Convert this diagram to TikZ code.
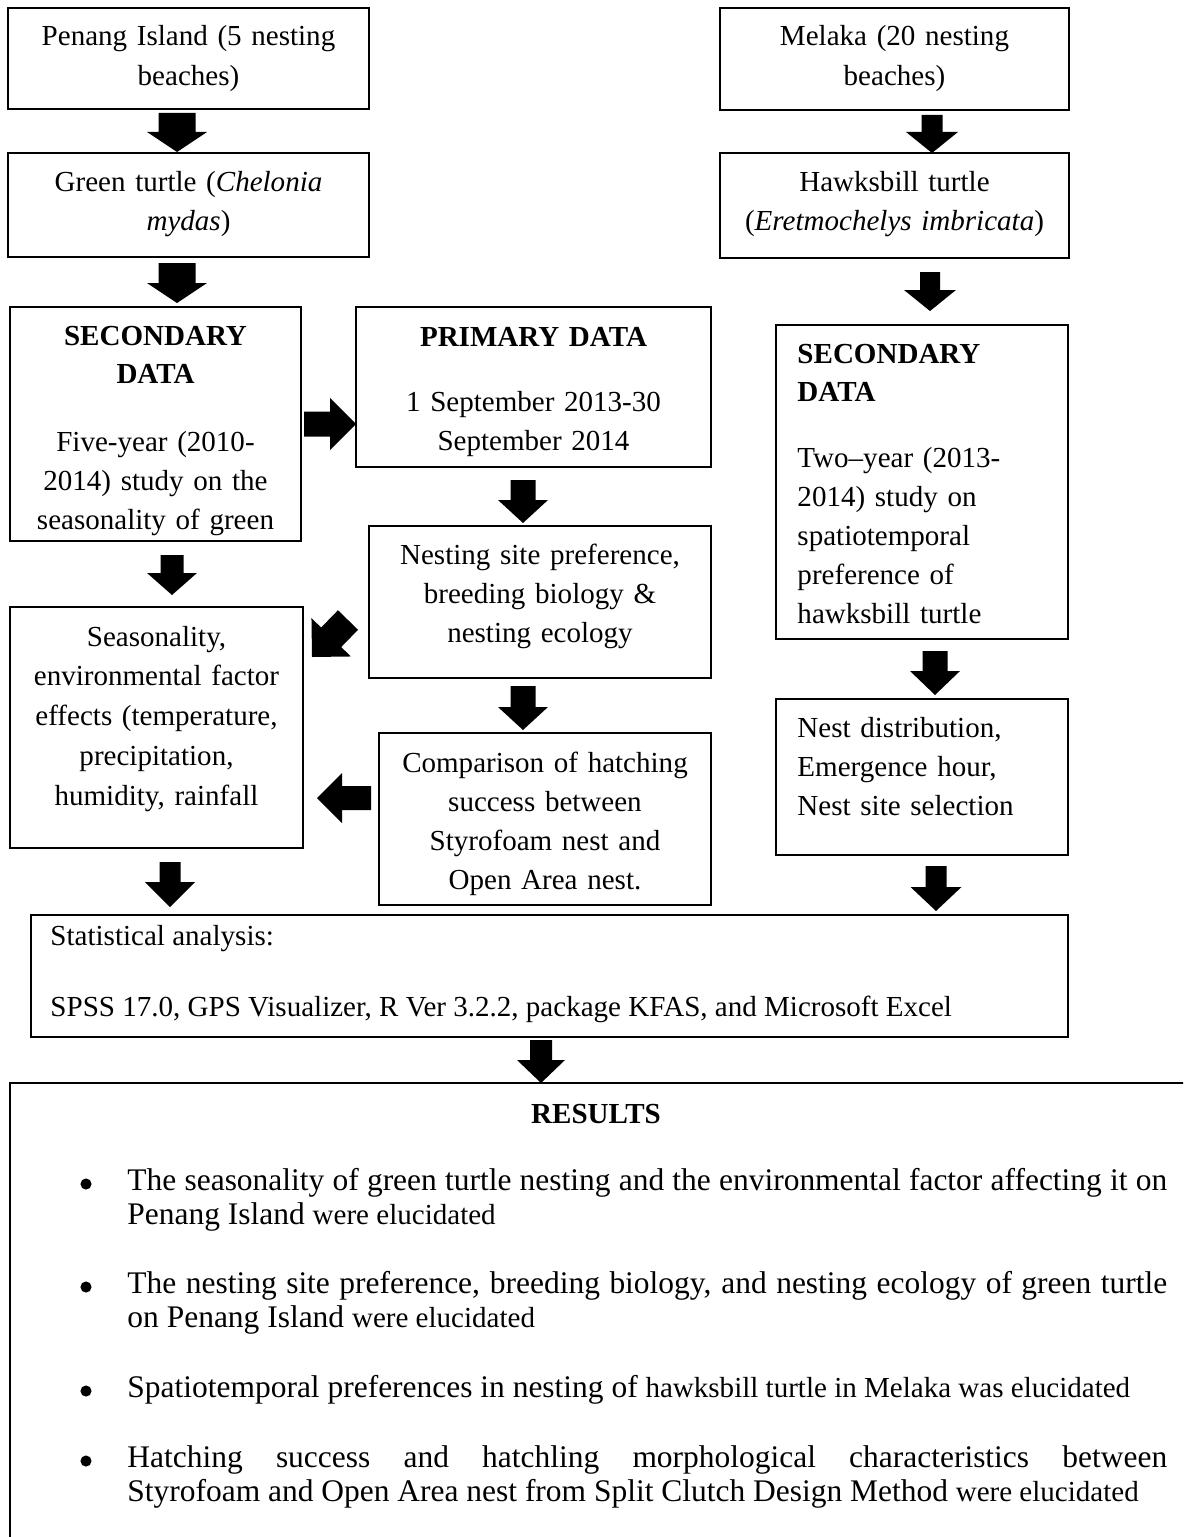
\documentclass[tikz,border=0pt]{standalone}
\usepackage{fontspec}
\setmainfont{Liberation Serif}
\usetikzlibrary{calc,fit}
\newcommand\pxu{0.41322pt}
\newcommand\itemprep{\tolerance=10000\relax\hyphenpenalty=10000\relax\exhyphenpenalty=10000\relax\hbadness=10000\relax}
\tikzset{
  box/.style={draw, line width=0.9pt, inner sep=0pt},
  lbl/.style={inner sep=0pt, anchor=base, align=center, text width=220pt,
              font=\fontsize{12}{16.2}\selectfont},
  lblL/.style={inner sep=0pt, anchor=base west, align=left, text width=140pt,
              font=\fontsize{12}{16.2}\selectfont},
  hdr/.style={font=\fontsize{12}{16}\selectfont\bfseries},
  item/.style={inner sep=0pt, anchor=base west, align=justify, text width=429.6pt,
              font=\fontsize{13}{14.2}\selectfont\itemprep},
  dot/.style={circle, fill=black, inner sep=0pt, minimum size=4.6pt},
}
% block arrow: from, tip, shaft width, head width, head length (all in px)
\newcommand\blockarrow[5]{%
  \fill let \p1=(#1), \p2=(#2), \n1={atan2(\y2-\y1,\x2-\x1)}, \n2={veclen(\x2-\x1,\y2-\y1)} in
    [shift={(\p1)}, rotate=\n1]
    (0pt,{#3/2*\pxu}) -- ({\n2*1pt-#5*\pxu},{#3/2*\pxu}) -- ({\n2*1pt-#5*\pxu},{#4/2*\pxu})
    -- ({\n2*1pt},0pt) -- ({\n2*1pt-#5*\pxu},{-#4/2*\pxu}) -- ({\n2*1pt-#5*\pxu},{-#3/2*\pxu})
    -- (0pt,{-#3/2*\pxu}) -- cycle;}
\newcommand\smalltxt[1]{{\fontsize{12}{14.2}\selectfont #1}}
\begin{document}
\begin{tikzpicture}[x=\pxu, y=-\pxu]
\useasboundingbox (0,0) rectangle (1183,1537);
\fill[white] (0,0) rectangle (1183,1537);
\clip (0,0) rectangle (1183,1537);

% ---------- boxes ----------
\node[box, fit={(8,8) (369,109)}] (A) {};
\node[box, fit={(8,153) (369,257)}] (B) {};
\node[box, fit={(10,307) (301,541)}] (C) {};
\node[box, fit={(356,307) (711,467)}] (D) {};
\node[box, fit={(369,526) (711,678)}] (E) {};
\node[box, fit={(10,607) (303,848)}] (F) {};
\node[box, fit={(379,733) (711,905)}] (G) {};
\node[box, fit={(720,8) (1069,110)}] (H) {};
\node[box, fit={(720,153) (1069,258)}] (I) {};
\node[box, fit={(776,325) (1068,639)}] (J) {};
\node[box, fit={(776,699) (1068,855)}] (K) {};
\node[box, fit={(31,915) (1068,1037)}] (L) {};
\node[box, fit={(10,1083) (1210,1570)}] (R) {};

% ---------- texts ----------
\node[lbl] (At) at (188.5,46) {Penang Island (5 nesting\\beaches)};
\node[lbl] (Bt) at (188.5,191) {Green turtle (\textit{Chelonia}\\\textit{mydas})};
\node[lbl,hdr] (Ch) at (155.5,345) {SECONDARY\\DATA};
\node[lbl] (Cb) at (155.5,451) {Five-year (2010-\\2014) study on the\\seasonality of green};
\node[lbl,hdr] (Dh) at (533.5,346) {PRIMARY DATA};
\node[lbl] (Db) at (533.5,411) {1 September 2013-30\\September 2014};
\node[lbl] (Et) at (540,564) {Nesting site preference,\\breeding biology \&\\nesting ecology};
\node[lbl, font=\fontsize{12}{16.5}\selectfont] (Ft) at (156.5,646) {Seasonality,\\environmental factor\\effects (temperature,\\precipitation,\\humidity, rainfall};
\node[lbl] (Gt) at (545,772) {Comparison of hatching\\success between\\Styrofoam nest and\\Open Area nest.};
\node[lbl] (Ht) at (894.5,46) {Melaka (20 nesting\\beaches)};
\node[lbl] (It) at (894.5,191) {Hawksbill turtle\\(\textit{Eretmochelys imbricata})};
\node[lblL,hdr] (Jh) at (797,363) {SECONDARY\\DATA};
\node[lblL] (Jb) at (797,467) {Two–year (2013-\\2014) study on\\spatiotemporal\\preference of\\hawksbill turtle};
\node[lblL] (Kt) at (797,737) {Nest distribution,\\Emergence hour,\\Nest site selection};
\node[inner sep=0pt, anchor=base west, font=\fontsize{12}{16}\selectfont] (L1) at (50,945) {Statistical analysis:};
\node[inner sep=0pt, anchor=base west, font=\fontsize{12}{16}\selectfont] (L2) at (50,1016) {SPSS 17.0, GPS Visualizer, R Ver 3.2.2, package KFAS, and Microsoft Excel};
\node[inner sep=0pt, anchor=base, font=\fontsize{12}{16}\selectfont\bfseries] (Rh) at (596,1123) {RESULTS};

\node[item] (R1) at (127,1190) {The seasonality of green turtle nesting and the environmental factor affecting it on\linebreak Penang Island \smalltxt{were elucidated}};
\node[item] (R2) at (127,1293) {The nesting site preference, breeding biology, and nesting ecology of green turtle\linebreak on Penang Island \smalltxt{were elucidated}};
\node[item] (R3) at (127,1397) {Spatiotemporal preferences in nesting of \smalltxt{hawksbill turtle in Melaka was elucidated}};
\node[item] (R4) at (127,1467) {Hatching success and hatchling morphological characteristics between\linebreak Styrofoam and Open Area nest from Split Clutch Design Method \smalltxt{were elucidated}};

\node[dot] (d1) at (86,1184) {};
\node[dot] (d2) at (86,1287) {};
\node[dot] (d3) at (86,1391) {};
\node[dot] (d4) at (86,1461) {};

% ---------- arrow end points ----------
\coordinate (ab1) at (177,113);  \coordinate (ab2) at (177,152);
\coordinate (bc1) at (177,263);  \coordinate (bc2) at (177,303);
\coordinate (cf1) at (172,555);  \coordinate (cf2) at (172,595);
\coordinate (fl1) at (170,862);  \coordinate (fl2) at (170,907);
\coordinate (cd1) at (304,424);  \coordinate (cd2) at (356,424);
\coordinate (de1) at (523,480);  \coordinate (de2) at (523,523);
\coordinate (eg1) at (523,686);  \coordinate (eg2) at (523,730);
\coordinate (ef1) at (348,620);  \coordinate (ef2) at (312,657);
\coordinate (gf1) at (371,798);  \coordinate (gf2) at (317,798);
\coordinate (hi1) at (932,115);  \coordinate (hi2) at (932,153);
\coordinate (ij1) at (930,272);  \coordinate (ij2) at (930,311);
\coordinate (jk1) at (935,651);  \coordinate (jk2) at (935,695);
\coordinate (kl1) at (936,866);  \coordinate (kl2) at (936,911);
\coordinate (lr1) at (541,1040); \coordinate (lr2) at (541,1083);

% ---------- block arrows ----------
\blockarrow{ab1}{ab2}{37}{60}{20}
\blockarrow{bc1}{bc2}{37}{60}{20}
\blockarrow{cf1}{cf2}{23}{50}{22}
\blockarrow{fl1}{fl2}{21}{50}{25}
\blockarrow{cd1}{cd2}{25}{52}{26}
\blockarrow{de1}{de2}{25}{50}{23}
\blockarrow{eg1}{eg2}{25}{50}{23}
\blockarrow{ef1}{ef2}{28}{55}{27.5}
\blockarrow{gf1}{gf2}{24}{50}{25}
\blockarrow{hi1}{hi2}{21}{52}{21}
\blockarrow{ij1}{ij2}{20}{52}{21}
\blockarrow{jk1}{jk2}{25}{50}{24}
\blockarrow{kl1}{kl2}{21}{51}{24}
\blockarrow{lr1}{lr2}{22}{48}{23}
\end{tikzpicture}
\end{document}
